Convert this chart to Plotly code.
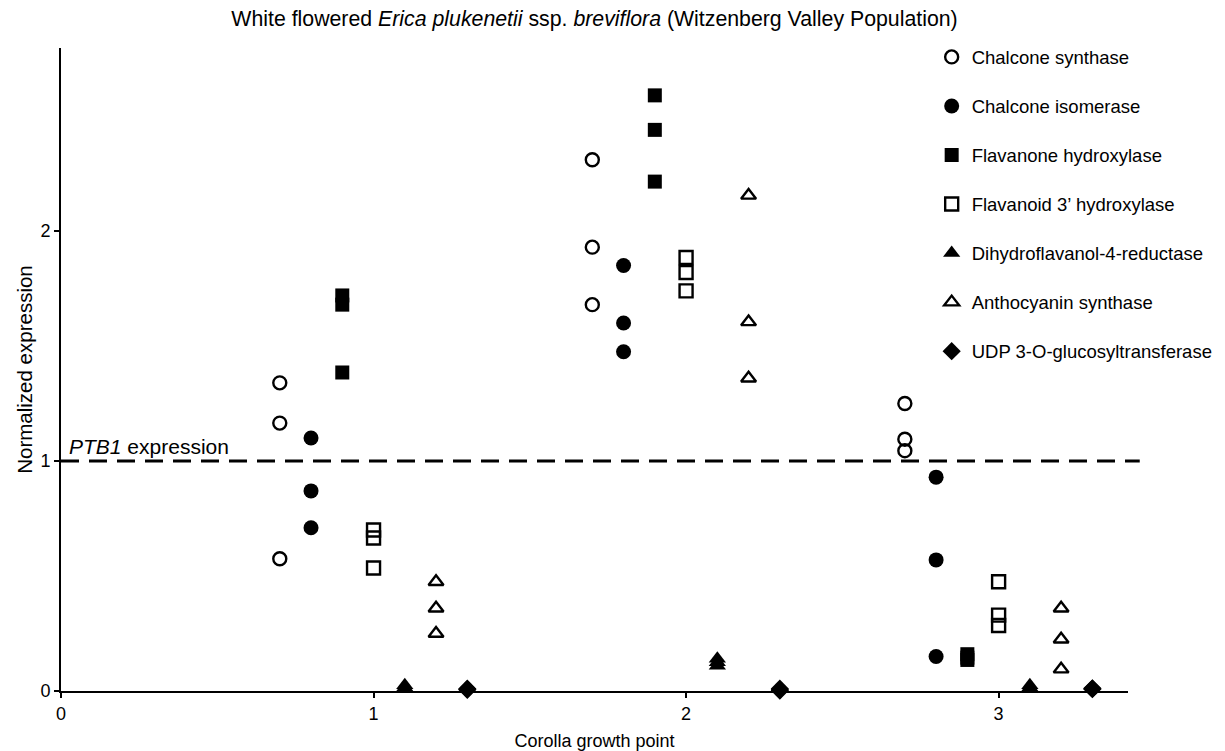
import plotly.graph_objects as go

# Data (x = corolla growth point, y = normalized expression; three replicates each)
chs_x = [0.7, 0.7, 0.7, 1.7, 1.7, 1.7, 2.7, 2.7, 2.7]
chs_y = [1.34, 1.165, 0.575, 2.31, 1.93, 1.68, 1.25, 1.095, 1.045]

chi_x = [0.8, 0.8, 0.8, 1.8, 1.8, 1.8, 2.8, 2.8, 2.8]
chi_y = [1.10, 0.87, 0.71, 1.85, 1.60, 1.475, 0.93, 0.57, 0.15]

f3h_x = [0.9, 0.9, 0.9, 1.9, 1.9, 1.9, 2.9, 2.9, 2.9]
f3h_y = [1.72, 1.68, 1.385, 2.59, 2.44, 2.215, 0.16, 0.145, 0.135]

f3ph_x = [1.0, 1.0, 1.0, 2.0, 2.0, 2.0, 3.0, 3.0, 3.0]
f3ph_y = [0.70, 0.665, 0.535, 1.885, 1.82, 1.74, 0.475, 0.33, 0.285]

dfr_x = [1.1, 1.1, 1.1, 2.1, 2.1, 2.1, 3.1, 3.1, 3.1]
dfr_y = [0.025, 0.015, 0.01, 0.14, 0.125, 0.11, 0.025, 0.015, 0.01]

ans_x = [1.2, 1.2, 1.2, 2.2, 2.2, 2.2, 3.2, 3.2, 3.2]
ans_y = [0.475, 0.36, 0.25, 2.155, 1.605, 1.36, 0.36, 0.225, 0.095]

ufgt_x = [1.3, 1.3, 1.3, 2.3, 2.3, 2.3, 3.3, 3.3, 3.3]
ufgt_y = [0.01, 0.008, 0.005, 0.01, 0.005, 0.002, 0.012, 0.01, 0.008]

names = ["Chalcone synthase", "Chalcone isomerase", "Flavanone hydroxylase",
         "Flavanoid 3\u2019 hydroxylase", "Dihydroflavanol-4-reductase",
         "Anthocyanin synthase", "UDP 3-O-glucosyltransferase"]
xs = [chs_x, chi_x, f3h_x, f3ph_x, dfr_x, ans_x, ufgt_x]
ys = [chs_y, chi_y, f3h_y, f3ph_y, dfr_y, ans_y, ufgt_y]
symbols = ["circle-open", "circle", "square", "square-open",
           "triangle-up", "triangle-up-open", "diamond"]
sizes = [13, 15, 14, 13, 15, 13, 14]

ptb1_level = 1.0

fig = go.Figure()
for i, (n, x, y, s, sz) in enumerate(zip(names, xs, ys, symbols, sizes)):
    fig.add_trace(go.Scatter(
        x=x, y=y, mode="markers", name=n, legendgroup=f"g{i}",
        marker=dict(symbol=s, size=sz, color="black",
                    line=dict(color="black", width=2.4 if "open" in s else 0)),
        cliponaxis=False,
    ))

fig.add_shape(type="line", xref="paper", yref="y", x0=0, x1=1.011,
              y0=ptb1_level, y1=ptb1_level,
              line=dict(color="black", width=3, dash="18px,10px"))
fig.add_annotation(x=0.02, y=ptb1_level, xref="x", yref="y",
                   text="<i>PTB1</i> expression", showarrow=False,
                   xanchor="left", yanchor="bottom", yshift=1,
                   font=dict(size=21, color="black"))

fig.update_layout(
    width=1225, height=751,
    margin=dict(l=61, r=97, t=48, b=60, autoexpand=False),
    plot_bgcolor="white", paper_bgcolor="white",
    font=dict(family="Liberation Sans, Arial, sans-serif", color="black"),
    title=dict(text="White flowered <i>Erica plukenetii</i> ssp. <i>breviflora</i> (Witzenberg Valley Population)",
               x=0.5, xref="paper", xanchor="center", y=1 - 19 / 751, yanchor="middle",
               font=dict(size=21.3, color="black")),
    legend=dict(x=0.816, y=1.015, xanchor="left", yanchor="top",
                font=dict(size=18.5, color="black"), tracegroupgap=22,
                bgcolor="rgba(0,0,0,0)", itemwidth=30),
    xaxis=dict(range=[0, 3.414], tickvals=[0, 1, 2, 3], showline=True,
               linecolor="black", linewidth=2, ticks="outside", ticklen=5,
               tickwidth=1.5, tickcolor="black", showgrid=False, zeroline=False,
               tickfont=dict(size=18), title=dict(text="Corolla growth point",
               font=dict(size=18), standoff=17)),
    yaxis=dict(range=[0, 2.796], tickvals=[0, 1, 2], showline=True,
               linecolor="black", linewidth=2, ticks="outside", ticklen=5,
               tickwidth=1.5, tickcolor="black", showgrid=False, zeroline=False,
               tickfont=dict(size=18), title=dict(text="Normalized expression",
               font=dict(size=20.5), standoff=2)),
)

fig.write_html("out.html")
